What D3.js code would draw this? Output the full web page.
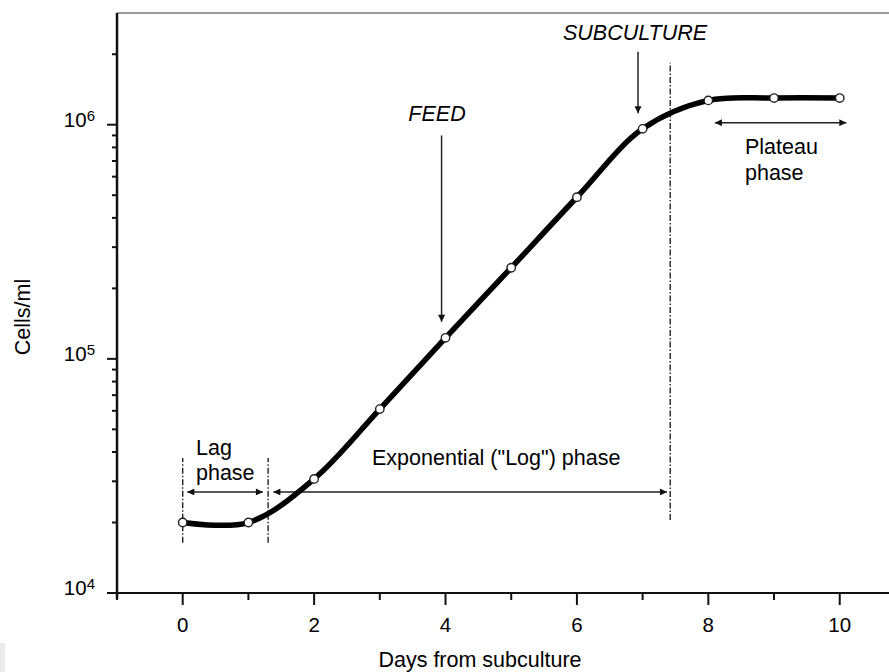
<!DOCTYPE html>
<html>
<head>
<meta charset="utf-8">
<script src="https://cdn.jsdelivr.net/npm/d3@7"></script>
<style>
  body { margin: 0; background: #fff; }
  svg { display: block; font-family: "Liberation Sans", Arial, Helvetica, sans-serif; }
</style>
</head>
<body>
<div id="chart"></div>
<script>
// growth curve samples (day, cells/ml)
var days  = [0, 1, 2, 3, 4, 5, 6, 7, 8, 9, 10];
var cells = [2.0e4, 2.0e4, 3.07e4, 6.1e4, 1.23e5, 2.45e5, 4.9e5, 9.6e5, 1.27e6, 1.30e6, 1.30e6];

var xTicks = [-1, 0, 1, 2, 3, 4, 5, 6, 7, 8, 9, 10];
var xLabels = [0, 2, 4, 6, 8, 10];
var yMajor = [1e4, 1e5, 1e6];
var yMinor = [2e4, 3e4, 4e4, 5e4, 6e4, 7e4, 8e4, 9e4,
              2e5, 3e5, 4e5, 5e5, 6e5, 7e5, 8e5, 9e5, 2e6];

// phase boundaries (days)
var boundaries = [0, 1.3, 7.42];

var width = 889, height = 672;

var svg = d3.select("#chart").append("svg")
  .attr("width", width)
  .attr("height", height);

var x = d3.scaleLinear().domain([-1, 10.75]).range([117, 889]);
var y = d3.scaleLog().domain([1e4, 3e6]).range([593, 13]);

var defs = svg.append("defs");
defs.append("marker")
  .attr("id", "head")
  .attr("viewBox", "0 0 10 10")
  .attr("refX", 10).attr("refY", 5)
  .attr("markerWidth", 12).attr("markerHeight", 7)
  .attr("markerUnits", "userSpaceOnUse")
  .attr("orient", "auto-start-reverse")
  .append("path")
  .attr("d", "M0,0L10,5L0,10z")
  .style("fill", "#111");

// scan artifact in the corner
svg.append("rect")
  .attr("x", 0).attr("y", 643).attr("width", 5).attr("height", 29)
  .style("fill", "#ebebeb");

// top frame line
svg.append("line")
  .attr("x1", x(-1)).attr("x2", width)
  .attr("y1", y(3e6)).attr("y2", y(3e6))
  .style("stroke", "#777").style("stroke-width", 1.6);

// x axis
var xAxis = svg.append("g")
  .attr("transform", "translate(0," + y(1e4) + ")");
xAxis.append("line")
  .attr("x1", 107).attr("x2", width)
  .style("stroke", "#111").style("stroke-width", 2);
xAxis.selectAll("line.tick")
  .data(xTicks).enter()
  .append("line")
  .attr("class", "tick")
  .attr("x1", function(d) { return x(d); })
  .attr("x2", function(d) { return x(d); })
  .attr("y1", 0)
  .attr("y2", function(d) { return (d >= 0 && d % 2 == 0) ? 12 : 7; })
  .style("stroke", "#111").style("stroke-width", 2);
xAxis.selectAll("text")
  .data(xLabels).enter()
  .append("text")
  .attr("x", function(d) { return x(d); })
  .attr("y", 39)
  .style("text-anchor", "middle")
  .style("font-size", "20.5px")
  .style("fill", "#000")
  .text(function(d) { return d; });

// y axis
var yAxis = svg.append("g")
  .attr("transform", "translate(" + x(-1) + ",0)");
yAxis.append("line")
  .attr("y1", y(3e6)).attr("y2", y(1e4) + 6)
  .style("stroke", "#111").style("stroke-width", 2.5);
yAxis.selectAll("line.minor")
  .data(yMinor).enter()
  .append("line")
  .attr("class", "minor")
  .attr("x1", -5).attr("x2", 0)
  .attr("y1", function(d) { return y(d); })
  .attr("y2", function(d) { return y(d); })
  .style("stroke", "#111").style("stroke-width", 2);
yAxis.selectAll("line.major")
  .data(yMajor).enter()
  .append("line")
  .attr("class", "major")
  .attr("x1", -10).attr("x2", 0)
  .attr("y1", function(d) { return y(d); })
  .attr("y2", function(d) { return y(d); })
  .style("stroke", "#111").style("stroke-width", 2);
var ylab = yAxis.selectAll("text")
  .data(yMajor).enter()
  .append("text")
  .attr("x", -22)
  .attr("y", function(d) { return y(d) + 2; })
  .style("text-anchor", "end")
  .style("font-size", "20.5px")
  .style("fill", "#000");
ylab.append("tspan").text("10");
ylab.append("tspan")
  .attr("dy", -6)
  .style("font-size", "15px")
  .text(function(d) { return Math.round(Math.log10(d)); });

// axis titles
svg.append("text")
  .attr("transform", "translate(30,317) rotate(-90)")
  .style("text-anchor", "middle")
  .style("font-size", "21.5px")
  .style("fill", "#000")
  .text("Cells/ml");

svg.append("text")
  .attr("x", 480).attr("y", 667)
  .style("text-anchor", "middle")
  .style("font-size", "21.5px")
  .style("fill", "#000")
  .text("Days from subculture");

// phase boundaries
var bounds = [
  {d: boundaries[0], lo: 1.64e4, hi: 3.77e4},
  {d: boundaries[1], lo: 1.64e4, hi: 3.77e4},
  {d: boundaries[2], lo: 2.05e4, hi: 1.84e6}
];
svg.selectAll("line.bound")
  .data(bounds).enter()
  .append("line")
  .attr("class", "bound")
  .attr("x1", function(d) { return x(d.d); })
  .attr("x2", function(d) { return x(d.d); })
  .attr("y1", function(d) { return y(d.lo); })
  .attr("y2", function(d) { return y(d.hi); })
  .style("stroke", "#222")
  .style("stroke-width", 1.4)
  .style("stroke-dasharray", "6,2,1.5,2");

// arrows
var arrows = [
  {x1: 0.07, y1: 2.7e4, x2: 1.22, y2: 2.7e4, both: true},
  {x1: 1.38, y1: 2.7e4, x2: 7.37, y2: 2.7e4, both: true},
  {x1: 8.1, y1: 1.02e6, x2: 10.1, y2: 1.02e6, both: true},
  {x1: 3.94, y1: 9.0e5, x2: 3.94, y2: 1.44e5, both: false},
  {x1: 6.93, y1: 2.05e6, x2: 6.93, y2: 1.12e6, both: false}
];
svg.selectAll("line.arrow")
  .data(arrows).enter()
  .append("line")
  .attr("class", "arrow")
  .attr("x1", function(d) { return x(d.x1); })
  .attr("y1", function(d) { return y(d.y1); })
  .attr("x2", function(d) { return x(d.x2); })
  .attr("y2", function(d) { return y(d.y2); })
  .style("stroke", "#222")
  .style("stroke-width", 1.5)
  .attr("marker-end", "url(#head)")
  .attr("marker-start", function(d) { return d.both ? "url(#head)" : null; });

// growth curve
var pts = days.map(function(d, i) { return [d, cells[i]]; });
var line = d3.line()
  .x(function(d) { return x(d[0]); })
  .y(function(d) { return y(d[1]); })
  .curve(d3.curveCatmullRom.alpha(0.5));

svg.append("path")
  .datum(pts)
  .attr("d", line)
  .style("fill", "none")
  .style("stroke", "#000")
  .style("stroke-width", 5.5)
  .style("stroke-linecap", "round");

svg.selectAll("circle")
  .data(pts).enter()
  .append("circle")
  .attr("cx", function(d) { return x(d[0]); })
  .attr("cy", function(d) { return y(d[1]); })
  .attr("r", 4.2)
  .style("fill", "#fff")
  .style("stroke", "#222")
  .style("stroke-width", 1.4);

// labels
var notes = [
  {t: "Lag", x: 196, y: 455, a: "start", it: false},
  {t: "phase", x: 196, y: 480, a: "start", it: false},
  {t: "Exponential (\"Log\") phase", x: 372, y: 465, a: "start", it: false},
  {t: "Plateau", x: 745, y: 154, a: "start", it: false},
  {t: "phase", x: 745, y: 180, a: "start", it: false},
  {t: "FEED", x: 437, y: 121, a: "middle", it: true},
  {t: "SUBCULTURE", x: 635, y: 40, a: "middle", it: true}
];
svg.selectAll("text.note")
  .data(notes).enter()
  .append("text")
  .attr("class", "note")
  .attr("x", function(d) { return d.x; })
  .attr("y", function(d) { return d.y; })
  .style("text-anchor", function(d) { return d.a; })
  .style("font-style", function(d) { return d.it ? "italic" : "normal"; })
  .style("font-size", "21.5px")
  .style("fill", "#000")
  .text(function(d) { return d.t; });
</script>
</body>
</html>
